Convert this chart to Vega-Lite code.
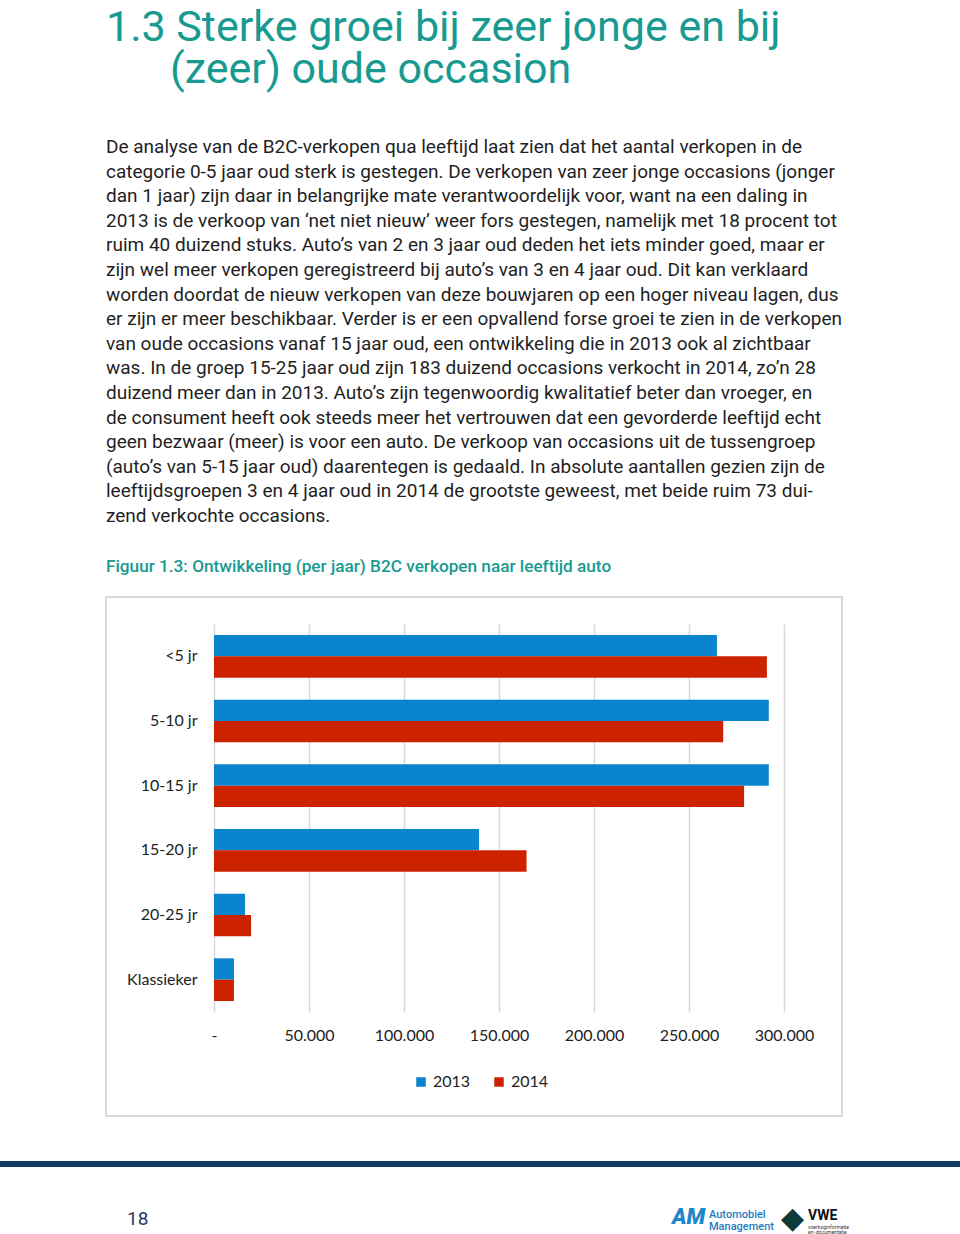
{
  "$schema": "https://vega.github.io/schema/vega-lite/v6.json",
  "background": "white",
  "padding": 0,
  "autosize": {"type": "pad"},
  "bounds": "flush",
  "spacing": 0,
  "config": {"view": {"stroke": null}, "font": "Roboto"},
  "vconcat": [
    {
      "width": 960,
      "height": 624,
      "data": {"values": []},
      "mark": "point",
      "title": {
        "text": ["1.3 Sterke groei bij zeer jonge en bij", "\u200b\u00a0\u00a0\u00a0\u00a0\u00a0\u00a0(zeer) oude occasion"],
        "subtitle": [
          "De analyse van de B2C-verkopen qua leeftijd laat zien dat het aantal verkopen in de",
          "categorie 0-5 jaar oud sterk is gestegen. De verkopen van zeer jonge occasions (jonger",
          "dan 1 jaar) zijn daar in belangrijke mate verantwoordelijk voor, want na een daling in",
          "2013 is de verkoop van \u2018net niet nieuw\u2019 weer fors gestegen, namelijk met 18 procent tot",
          "ruim 40 duizend stuks. Auto\u2019s van 2 en 3 jaar oud deden het iets minder goed, maar er",
          "zijn wel meer verkopen geregistreerd bij auto\u2019s van 3 en 4 jaar oud. Dit kan verklaard",
          "worden doordat de nieuw verkopen van deze bouwjaren op een hoger niveau lagen, dus",
          "er zijn er meer beschikbaar. Verder is er een opvallend forse groei te zien in de verkopen",
          "van oude occasions vanaf 15 jaar oud, een ontwikkeling die in 2013 ook al zichtbaar",
          "was. In de groep 15-25 jaar oud zijn 183 duizend occasions verkocht in 2014, zo\u2019n 28",
          "duizend meer dan in 2013. Auto\u2019s zijn tegenwoordig kwalitatief beter dan vroeger, en",
          "de consument heeft ook steeds meer het vertrouwen dat een gevorderde leeftijd echt",
          "geen bezwaar (meer) is voor een auto. De verkoop van occasions uit de tussengroep",
          "(auto\u2019s van 5-15 jaar oud) daarentegen is gedaald. In absolute aantallen gezien zijn de",
          "leeftijdsgroepen 3 en 4 jaar oud in 2014 de grootste geweest, met beide ruim 73 dui-",
          "zend verkochte occasions."
        ],
        "orient": "top",
        "anchor": "start",
        "frame": "group",
        "dx": 106,
        "offset": -526,
        "font": "Liberation Sans Narrow, Roboto",
        "fontSize": 43,
        "fontWeight": "normal",
        "color": "#189a91",
        "lineHeight": 42,
        "subtitleFont": "Roboto",
        "subtitleFontSize": 19,
        "subtitleColor": "#1f1f1f",
        "subtitleLineHeight": 24.6,
        "subtitlePadding": 46
      }
    },
    {
      "width": 960,
      "height": 388,
      "data": {
        "values": [
          {"cat": "<5 jr", "year": "2013", "value": 264700},
          {"cat": "<5 jr", "year": "2014", "value": 291000},
          {"cat": "5-10 jr", "year": "2013", "value": 292000},
          {"cat": "5-10 jr", "year": "2014", "value": 268000},
          {"cat": "10-15 jr", "year": "2013", "value": 292000},
          {"cat": "10-15 jr", "year": "2014", "value": 279000},
          {"cat": "15-20 jr", "year": "2013", "value": 139500},
          {"cat": "15-20 jr", "year": "2014", "value": 164500},
          {"cat": "20-25 jr", "year": "2013", "value": 16300},
          {"cat": "20-25 jr", "year": "2014", "value": 19500},
          {"cat": "Klassieker", "year": "2013", "value": 10500},
          {"cat": "Klassieker", "year": "2014", "value": 10500}
        ]
      },
      "title": {
        "text": "Figuur 1.3: Ontwikkeling (per jaar) B2C verkopen naar leeftijd auto",
        "orient": "top",
        "anchor": "start",
        "frame": "group",
        "dx": 106,
        "offset": 21,
        "font": "Roboto",
        "fontSize": 17.2,
        "fontWeight": 500,
        "color": "#189a91"
      },
      "layer": [
        {
          "data": {"values": [{}]},
          "mark": {"type": "rect", "filled": false, "stroke": "#d9d9d9", "strokeWidth": 2},
          "encoding": {
            "x": {"datum": -56842, "type": "quantitative", "scale": {"domain": [-112632, 392632], "nice": false, "zero": false}},
            "x2": {"datum": 330526},
            "y": {"datum": 0, "type": "quantitative", "scale": {"domain": [0.2004, 0.948], "nice": false, "zero": false}, "axis": null},
            "y2": {"datum": 1}
          }
        },
        {
          "mark": {"type": "bar"},
          "encoding": {
            "y": {
              "field": "cat",
              "type": "nominal",
              "sort": ["<5 jr", "5-10 jr", "10-15 jr", "15-20 jr", "20-25 jr", "Klassieker"],
              "scale": {"paddingInner": 0.34, "paddingOuter": 0.17},
              "axis": {
                "orient": "left",
                "offset": -214,
                "title": null,
                "domain": false,
                "ticks": false,
                "grid": false,
                "labelPadding": 17,
                "labelFont": "Lato",
                "labelFontSize": 16,
                "labelColor": "#222222"
              }
            },
            "yOffset": {"field": "year", "type": "nominal", "sort": ["2013", "2014"]},
            "x": {
              "field": "value",
              "type": "quantitative",
              "scale": {"domain": [-112632, 392632], "nice": false, "zero": false},
              "axis": {
                "values": [0, 50000, 100000, 150000, 200000, 250000, 300000],
                "labelExpr": "datum.value == 0 ? '-' : replace(format(datum.value, ','), ',', '.')",
                "title": null,
                "domain": false,
                "ticks": false,
                "grid": true,
                "gridColor": "#d9d9d9",
                "gridWidth": 1.5,
                "labelPadding": 15,
                "labelFont": "Lato",
                "labelFontSize": 16,
                "labelColor": "#222222"
              }
            },
            "color": {
              "field": "year",
              "type": "nominal",
              "scale": {"domain": ["2013", "2014"], "range": ["#0A84CC", "#CC2200"]},
              "legend": {
                "orient": "none",
                "legendX": 413,
                "legendY": 1074,
                "direction": "horizontal",
                "title": null,
                "symbolType": "square",
                "symbolSize": 90,
                "symbolStrokeWidth": 0,
                "labelFont": "Lato",
                "labelFontSize": 16,
                "labelColor": "#222222",
                "columnPadding": 20
              }
            }
          }
        }
      ],
      "resolve": {"scale": {"y": "independent"}, "axis": {"y": "independent"}}
    },
    {
      "width": 960,
      "height": 149,
      "data": {"values": []},
      "mark": "point",
      "title": {
        "text": "18",
        "orient": "bottom",
        "anchor": "start",
        "frame": "group",
        "dx": 127,
        "offset": 49,
        "font": "Roboto",
        "fontSize": 19,
        "fontWeight": "normal",
        "color": "#1f3a60"
      }
    },
    {
      "width": 960,
      "height": 6,
      "view": {"fill": "#133a63", "stroke": null},
      "data": {"values": []},
      "mark": "point",
      "title": {
        "text": ["Automobiel", "Management"],
        "orient": "bottom",
        "anchor": "start",
        "frame": "group",
        "dx": 709,
        "offset": 42,
        "font": "Roboto",
        "fontSize": 11,
        "fontWeight": 500,
        "lineHeight": 11.5,
        "color": "#1f7bc1"
      }
    },
    {
      "width": 960,
      "height": 1,
      "data": {"values": []},
      "mark": "point",
      "title": {
        "text": "AM",
        "orient": "bottom",
        "anchor": "start",
        "frame": "group",
        "dx": 672,
        "offset": 39,
        "font": "Roboto",
        "fontSize": 22,
        "fontWeight": 900,
        "fontStyle": "italic",
        "color": "#1f86c9"
      }
    },
    {
      "width": 960,
      "height": 1,
      "data": {"values": []},
      "mark": "point",
      "title": {
        "text": "VWE",
        "subtitle": ["voertuiginformatie", "en -documentatie"],
        "orient": "bottom",
        "anchor": "start",
        "frame": "group",
        "dx": 808,
        "offset": 40,
        "font": "Roboto",
        "fontSize": 14,
        "fontWeight": "bold",
        "color": "#111111",
        "subtitleFont": "Roboto",
        "subtitleFontSize": 5,
        "subtitleLineHeight": 5,
        "subtitleColor": "#333333",
        "subtitlePadding": 2
      }
    },
    {
      "width": 960,
      "height": 1,
      "data": {"values": []},
      "mark": "point",
      "title": {
        "text": "\u25c6",
        "orient": "bottom",
        "anchor": "start",
        "frame": "group",
        "dx": 781,
        "offset": 34,
        "font": "DejaVu Sans",
        "fontSize": 30,
        "fontWeight": "normal",
        "color": "#0d3b3a"
      }
    }
  ]
}
